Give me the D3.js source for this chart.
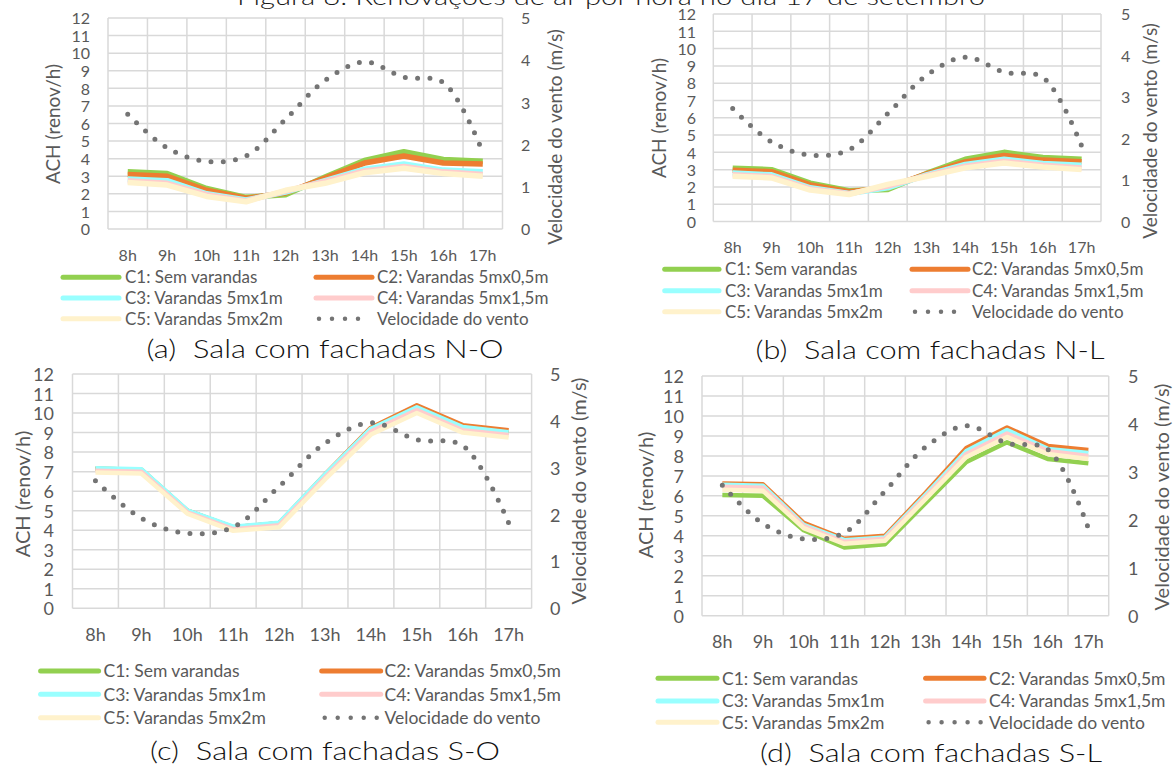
<!DOCTYPE html>
<html><head><meta charset="utf-8">
<script src="https://cdn.jsdelivr.net/npm/d3@7"></script>
<style>body{margin:0;background:#fff}svg{display:block}</style>
</head><body>
<svg id="c" width="1176" height="766"></svg>
<script>
// ---------- data ----------
const figureTitle = "Figura 8: Renovações de ar por hora no dia 17 de setembro";
const hours = ["8h","9h","10h","11h","12h","13h","14h","15h","16h","17h"];
const seriesNames = ["C1: Sem varandas","C2: Varandas 5mx0,5m","C3: Varandas 5mx1m","C4: Varandas 5mx1,5m","C5: Varandas 5mx2m"];
const windName = "Velocidade do vento";
const seriesColors = ["#92d050","#ed7d31","#99ffff","#ffcccc","#fff2cc"];
const windColor = "#747474";
const achTicks = [0,1,2,3,4,5,6,7,8,9,10,11,12];
const windTicks = [0,1,2,3,4,5];
const leftTitle = "ACH (renov/h)";
const rightTitle = "Velocidade do vento (m/s)";
const captions = ["(a)\u00a0 Sala com fachadas N-O","(b)\u00a0 Sala com fachadas N-L","(c)\u00a0 Sala com fachadas S-O","(d)\u00a0 Sala com fachadas S-L"];

const windSpeed = [2.72, 1.92, 1.6, 1.73, 2.6, 3.52, 3.96, 3.6, 3.47, 1.82];

// ACH per configuration (C1..C5)
const achNO = [
  [3.25, 3.15, 2.3, 1.8, 1.95, 2.95, 3.9, 4.4, 3.95, 3.85],
  [3.1, 3.0, 2.2, 1.75, 2.05, 2.9, 3.75, 4.15, 3.75, 3.7],
  [2.85, 2.75, 2.0, 1.65, 2.1, 2.75, 3.4, 3.7, 3.35, 3.25],
  [2.75, 2.6, 1.95, 1.6, 2.15, 2.7, 3.3, 3.55, 3.25, 3.1],
  [2.65, 2.5, 1.85, 1.55, 2.2, 2.6, 3.2, 3.45, 3.15, 3.0]
];
const achNL = [
  [3.08, 3.0, 2.22, 1.78, 1.85, 2.78, 3.6, 4.0, 3.7, 3.6],
  [2.97, 2.88, 2.12, 1.72, 1.95, 2.75, 3.45, 3.82, 3.55, 3.45],
  [2.8, 2.7, 1.95, 1.62, 1.95, 2.7, 3.3, 3.6, 3.35, 3.25],
  [2.7, 2.6, 1.88, 1.6, 2.05, 2.65, 3.2, 3.48, 3.25, 3.1],
  [2.62, 2.52, 1.82, 1.56, 2.15, 2.6, 3.1, 3.38, 3.15, 3.0]
];
const achSO = [
  [7.15, 7.1, 5.0, 4.15, 4.35, 6.8, 9.15, 10.3, 9.25, 9.0],
  [7.15, 7.1, 5.0, 4.15, 4.35, 6.85, 9.25, 10.4, 9.38, 9.12],
  [7.17, 7.12, 5.02, 4.18, 4.38, 6.85, 9.2, 10.3, 9.28, 9.02],
  [7.05, 7.0, 4.92, 4.05, 4.25, 6.7, 9.05, 10.15, 9.12, 8.88],
  [6.95, 6.9, 4.85, 3.97, 4.15, 6.6, 8.9, 10.0, 9.0, 8.75]
];
const achSL = [
  [6.04, 6.0, 4.28, 3.42, 3.58, 5.65, 7.7, 8.68, 7.85, 7.63],
  [6.62, 6.58, 4.65, 3.85, 4.0, 6.15, 8.4, 9.42, 8.5, 8.3],
  [6.55, 6.5, 4.55, 3.78, 3.92, 6.05, 8.25, 9.3, 8.35, 8.15],
  [6.45, 6.4, 4.48, 3.7, 3.85, 5.95, 8.1, 9.12, 8.25, 8.0],
  [6.3, 6.25, 4.38, 3.6, 3.75, 5.85, 7.95, 8.95, 8.1, 7.85]
];

// ---------- layout ----------
const panels = [
  {data: achNO, cap: captions[0], left:108, right:502.5, top:18, bottom:229,
   tickFs:16, titleFs:19, legFs:17, lw:5.5,
   lTickX:90, rTickX:521, lTitle:[52.7,124], rTitle:[555,137], xLabY:255,
   legRows:[277.3,298,318.7], legCols:[[63,119,125],[316,372,377]],
   capPos:[325,348.5,357]},
  {data: achNL, cap: captions[1], left:713.3, right:1101, top:14, bottom:221.5,
   tickFs:16, titleFs:19, legFs:17, lw:5.5,
   lTickX:696, rTickX:1121, lTitle:[659,118], rTitle:[1150.5,131], xLabY:247,
   legRows:[269.3,290.7,311.7], legCols:[[664.7,719,725],[912,968,972]],
   capPos:[930,350,349]},
  {data: achSO, cap: captions[2], left:72.5, right:531.6, top:374, bottom:608.3,
   tickFs:18, titleFs:20, legFs:17.5, lw:4.5,
   lTickX:54, rTickX:550, lTitle:[22.6,494], rTitle:[579,491], xLabY:634.5,
   legRows:[671,694.3,717.7], legCols:[[40.6,98.6,103.5],[321.7,380.7,384.5]],
   capPos:[325,751,350]},
  {data: achSL, cap: captions[3], left:702, right:1108.7, top:376, bottom:615.7,
   tickFs:18, titleFs:20, legFs:17.5, lw:4.5,
   lTickX:684, rTickX:1128, lTitle:[646,495], rTitle:[1161.7,497], xLabY:641.5,
   legRows:[678.3,701,722.3], legCols:[[658,717,722],[925.6,984,989]],
   capPos:[931,753,342]}
];

const FONT = "Lato, 'Open Sans', sans-serif";
const CAPFONT = "Lato, 'DejaVu Sans', sans-serif";
const TXT = "#595959";
const GRID = "#d9d9d9";
const svg = d3.select("#c");

svg.append("text").attr("x", 611).attr("y", 5).attr("text-anchor","middle")
  .attr("font-family", CAPFONT).attr("font-weight", 300).attr("font-size", 24).attr("fill","#1a1a1a")
  .attr("textLength", 748).attr("lengthAdjust","spacingAndGlyphs").text(figureTitle);

panels.forEach(p => {
  const g = svg.append("g");
  const x = d3.scaleBand().domain(hours).range([p.left, p.right]);
  const y = d3.scaleLinear().domain([0, 12]).range([p.bottom, p.top]);
  const y2 = d3.scaleLinear().domain([0, 5]).range([p.bottom, p.top]);
  const cx = h => x(h) + x.bandwidth() / 2;

  // gridlines
  g.append("g").selectAll("line").data(achTicks).join("line")
    .attr("x1", p.left).attr("x2", p.right)
    .attr("y1", d => y(d)).attr("y2", d => y(d))
    .attr("stroke", GRID).attr("stroke-width", 1.5);
  const edges = hours.map(h => x(h)).concat([p.right]);
  g.append("g").selectAll("line").data(edges).join("line")
    .attr("x1", d => d).attr("x2", d => d)
    .attr("y1", p.top).attr("y2", p.bottom)
    .attr("stroke", GRID).attr("stroke-width", 1.5);

  // ACH series
  const line = d3.line().x((d, i) => cx(hours[i])).y(d => y(d));
  p.data.forEach((s, k) => {
    g.append("path").attr("d", line(s)).attr("fill","none")
      .attr("stroke", seriesColors[k]).attr("stroke-width", p.lw)
      .attr("stroke-linejoin","round").attr("stroke-linecap","butt");
  });

  // wind (secondary axis)
  const wl = d3.line().x((d, i) => cx(hours[i])).y(d => y2(d)).curve(d3.curveCatmullRom.alpha(0.5));
  g.append("path").attr("d", wl(windSpeed)).attr("fill","none")
    .attr("stroke", windColor).attr("stroke-width", 5)
    .attr("stroke-dasharray","0 12.3").attr("stroke-linecap","round");

  // axes
  const styleAxis = (sel, fs) => {
    sel.select(".domain").remove();
    sel.selectAll(".tick line").remove();
    sel.selectAll("text").attr("font-family", FONT).attr("font-size", fs).attr("fill", TXT);
  };
  const ax = g.append("g").attr("transform", `translate(${p.lTickX},0)`)
    .call(d3.axisLeft(y).tickValues(achTicks).tickSize(0).tickPadding(0).tickFormat(d3.format("d")));
  styleAxis(ax, p.tickFs);
  ax.selectAll("text").attr("dy","0.36em");
  const ax2 = g.append("g").attr("transform", `translate(${p.rTickX},0)`)
    .call(d3.axisRight(y2).tickValues(windTicks).tickSize(0).tickPadding(0).tickFormat(d3.format("d")));
  styleAxis(ax2, p.tickFs);
  ax2.selectAll("text").attr("dy","0.36em");
  const axb = g.append("g").attr("transform", `translate(0,${p.xLabY})`)
    .call(d3.axisBottom(x).tickSize(0).tickPadding(0));
  styleAxis(axb, p.tickFs);
  axb.selectAll("text").attr("y", 0).attr("dy","0.36em");

  // axis titles
  g.append("text").attr("transform", `translate(${p.lTitle[0]},${p.lTitle[1]}) rotate(-90)`)
    .attr("text-anchor","middle").attr("dy","0.36em")
    .attr("font-family", FONT).attr("font-size", p.titleFs).attr("fill", TXT).text(leftTitle);
  g.append("text").attr("transform", `translate(${p.rTitle[0]},${p.rTitle[1]}) rotate(-90)`)
    .attr("text-anchor","middle").attr("dy","0.36em")
    .attr("font-family", FONT).attr("font-size", p.titleFs).attr("fill", TXT).text(rightTitle);

  // legend
  const items = seriesNames.map((n, k) => ({name: n, color: seriesColors[k], wind: false}))
    .concat([{name: windName, color: windColor, wind: true}]);
  items.forEach((it, i) => {
    const col = p.legCols[i % 2], ry = p.legRows[Math.floor(i / 2)];
    const ln = g.append("line").attr("x1", col[0]).attr("x2", col[1]).attr("y1", ry).attr("y2", ry)
      .attr("stroke", it.color);
    if (it.wind) ln.attr("stroke-width", 4.5).attr("stroke-dasharray","0 13").attr("stroke-linecap","round").attr("x1", col[0] + 3).attr("x2", col[1] - 1);
    else ln.attr("stroke-width", 5).attr("stroke-linecap","round");
    g.append("text").attr("x", col[2]).attr("y", ry).attr("dy","0.36em")
      .attr("font-family", FONT).attr("font-size", p.legFs).attr("fill", TXT).text(it.name);
  });

  // caption
  g.append("text").attr("x", p.capPos[0]).attr("y", p.capPos[1]).attr("dy","0.36em")
    .attr("text-anchor","middle").attr("font-family", CAPFONT).attr("font-weight", 300).attr("font-size", 25)
    .attr("fill","#111").attr("textLength", p.capPos[2]).attr("lengthAdjust","spacingAndGlyphs")
    .text(p.cap);
});
</script>
</body></html>
